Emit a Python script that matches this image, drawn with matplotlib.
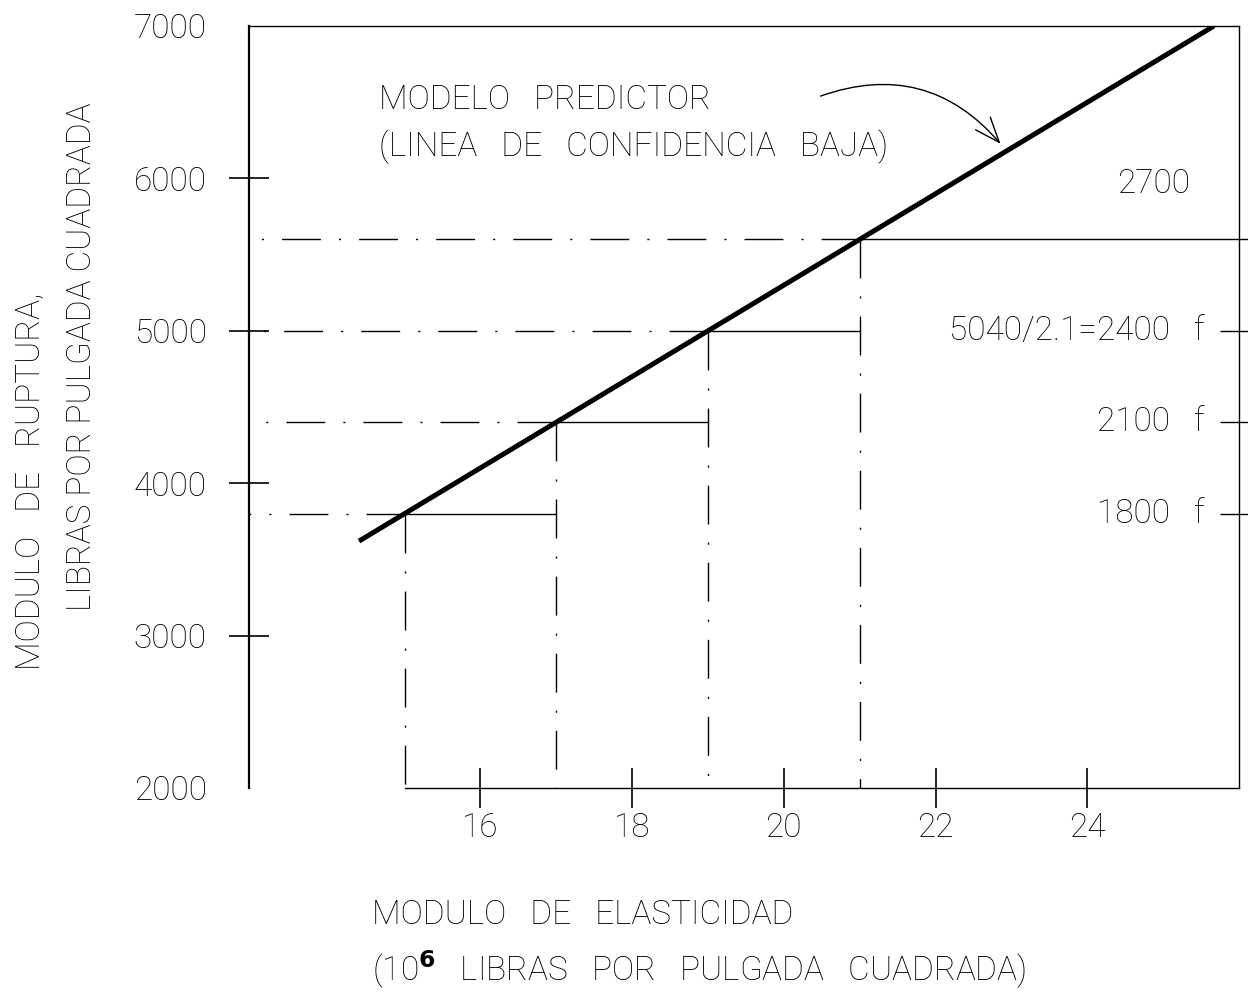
import matplotlib
matplotlib.use("Agg")
import matplotlib.pyplot as plt
from matplotlib.patches import FancyArrowPatch

plt.rcParams['font.family'] = ['Roboto', 'DejaVu Sans']
plt.rcParams['font.weight'] = 'light'
plt.rcParams['lines.scale_dashes'] = False

# predictor line (lower confidence line): MOR vs MOE
line_moe = [14.4, 25.67]
line_mor = [3620, 7000]

# design points
step_moe = [15, 17, 19, 21]
step_mor = [3800, 4400, 5000, 5600]

# allowable stress marks on the right side (MOR / 2.1)
allow_levels = [5000, 4400, 3800]
allow_labels = ['5040/2.1=2400   f', '2100   f', '1800   f']
top_label = '2700'
top_label_level = 5960

x_ticks = [16, 18, 20, 22, 24]
y_ticks = [2000, 3000, 4000, 5000, 6000, 7000]

FS = 24
W, H = 1248, 994
fig = plt.figure(figsize=(W / 100, H / 100), dpi=100)
ax = fig.add_axes([249 / W, 1 - 788 / H, (1239 - 249) / W, (788 - 26) / H])
ax.set_xlim(12.95, 26.0)
ax.set_ylim(2000, 7000)

dashdot = (0, (28, 13, 1.5, 13))
thin = 1.0

# main line
ax.plot(line_moe, line_mor, color='black', lw=3.6, solid_capstyle='butt', zorder=5)

x0, x1 = ax.get_xlim()
for i, (xm, ym) in enumerate(zip(step_moe, step_mor)):
    # dash-dot guide to the left axis and down to the bottom
    ax.plot([xm, x0], [ym, ym], color='black', lw=thin, linestyle=dashdot)
    ax.plot([xm, xm], [ym, 2000], color='black', lw=thin, linestyle=dashdot)
    # solid step to the next point
    if i + 1 < len(step_moe):
        ax.plot([xm, step_moe[i + 1]], [ym, ym], color='black', lw=thin)
    else:
        ax.plot([xm, x1 + 0.1], [ym, ym], color='black', lw=thin, clip_on=False)

# right-hand allowable stress ticks and labels
ax2 = ax.twinx()
ax2.set_ylim(ax.get_ylim())
ax2.set_yticks(allow_levels)
ax2.set_yticklabels([])
ax2.tick_params(axis='y', direction='inout', length=28, width=1.0)
for spine in ax2.spines.values():
    spine.set_visible(False)
for lvl, lab in zip(allow_levels, allow_labels):
    ax.text(25.55, lvl, lab, ha='right', va='center', fontsize=FS)
ax.text(25.36, top_label_level, top_label, ha='right', va='center', fontsize=FS)

# annotation with curved arrow
ax.text(14.67, 6514, 'MODELO   PREDICTOR', fontsize=FS, va='center', ha='left')
ax.text(14.67, 6206, '(LINEA   DE   CONFIDENCIA   BAJA)', fontsize=FS, va='center', ha='left')
arrow = FancyArrowPatch((20.45, 6534), (22.88, 6213), connectionstyle='arc3,rad=-0.35',
                        arrowstyle='->,head_length=0.9,head_width=0.35',
                        mutation_scale=20, color='black', lw=1.0)
ax.add_patch(arrow)

# axes frame
ax.spines['bottom'].set_bounds(15, x1)
ax.spines['left'].set_linewidth(1.6)
for s in ['top', 'right', 'bottom']:
    ax.spines[s].set_linewidth(1.0)

ax.set_xticks(x_ticks)
ax.set_yticks(y_ticks)
ax.tick_params(axis='x', direction='inout', length=29, width=1.2, pad=3, labelsize=FS)
ax.tick_params(axis='y', direction='inout', length=29, width=1.2, pad=16, labelsize=FS)
yt = ax.yaxis.get_major_ticks()
yt[0].tick1line.set_visible(False)
yt[-1].tick1line.set_visible(False)

# axis titles
fig.text(30 / W, 1 - 670 / H, 'MODULO   DE   RUPTURA,', rotation=90, ha='center', va='bottom', fontsize=FS)
fig.text(82 / W, 1 - 611 / H, 'LIBRAS POR PULGADA CUADRADA', rotation=90, ha='center', va='bottom', fontsize=FS)
fig.text(372 / W, 1 - 915 / H, 'MODULO   DE   ELASTICIDAD', ha='left', va='center', fontsize=FS)
fig.text(372 / W, 1 - 970 / H, '(10$^{\\mathbf{6}}$   LIBRAS   POR   PULGADA   CUADRADA)',
         ha='left', va='center', fontsize=FS)

fig.savefig('out.png', dpi=100)
